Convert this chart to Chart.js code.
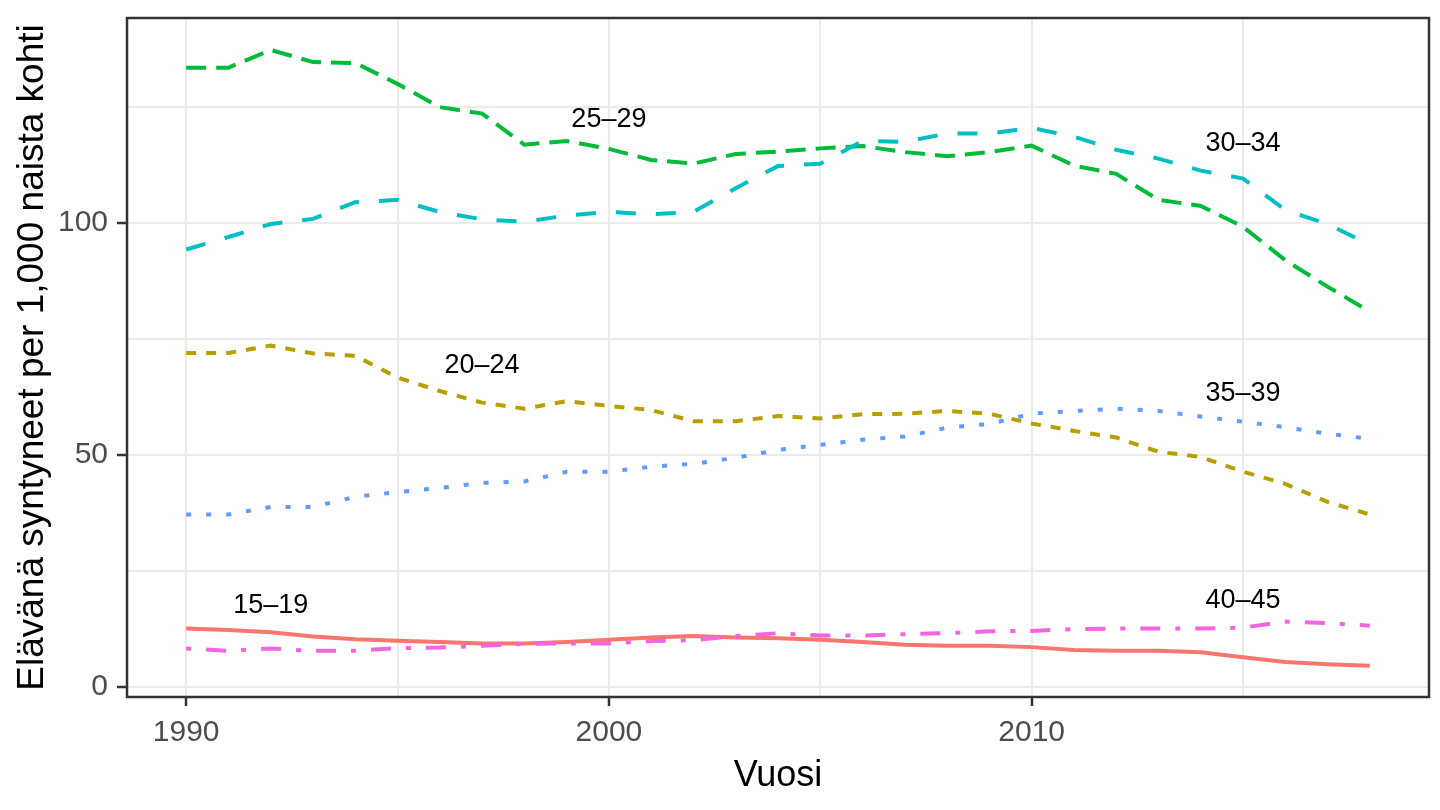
<!DOCTYPE html>
<html><head><meta charset="utf-8">
<script src="https://cdn.jsdelivr.net/npm/chart.js@4.4.1/dist/chart.umd.min.js"></script>
<style>html,body{margin:0;padding:0;background:#fff;} #wrap{width:1440px;height:810px;position:relative;}</style>
</head><body><div id="wrap"><canvas id="c"></canvas></div>
<script>
// ---- data ----
const years = [1990,1991,1992,1993,1994,1995,1996,1997,1998,1999,2000,2001,2002,2003,2004,2005,2006,2007,2008,2009,2010,2011,2012,2013,2014,2015,2016,2017,2018];
const ageGroups = ['15–19','20–24','25–29','30–34','35–39','40–45'];
const age1519 = [12.6,12.3,11.8,10.9,10.3,10.0,9.7,9.4,9.4,9.7,10.2,10.7,11.0,10.7,10.5,10.2,9.7,9.1,8.9,8.9,8.6,8.0,7.8,7.8,7.5,6.4,5.4,4.9,4.6];
const age2024 = [72.0,72.0,73.6,71.9,71.4,66.7,63.8,61.3,60.0,61.6,60.6,59.7,57.3,57.3,58.4,57.9,58.8,58.9,59.5,58.9,56.8,55.2,53.8,50.7,49.6,46.4,43.8,39.9,37.2];
const age2529 = [133.5,133.5,137.3,134.7,134.5,130.0,125.0,123.6,116.9,117.7,116.0,113.6,112.8,114.9,115.4,116.1,116.6,115.3,114.4,115.3,116.7,112.4,110.6,105.0,103.7,99.2,92.0,86.3,80.9];
const age3034 = [94.3,97.0,99.8,100.9,104.5,105.0,102.4,100.8,100.3,101.6,102.4,101.9,102.4,107.5,112.3,112.8,117.7,117.5,119.3,119.3,120.5,118.6,115.8,113.9,111.3,109.6,102.8,99.8,95.3];
const age3539 = [37.2,37.2,38.8,38.8,41.0,42.0,42.9,44.0,44.3,46.4,46.4,47.5,48.1,49.4,51.1,52.2,53.3,54.0,55.9,56.7,58.9,59.5,60.0,59.5,58.3,57.2,56.0,54.6,53.5];
const age4045 = [8.3,7.8,8.3,7.8,7.8,8.4,8.5,8.9,9.3,9.4,9.4,9.9,10.1,11.0,11.6,11.1,11.1,11.4,11.6,12.0,12.1,12.5,12.6,12.6,12.6,12.8,14.1,13.8,13.2];
const xTicks = [1990,1995,2000,2005,2010,2015];
const xTickLabels = ['1990','','2000','','2010',''];
const yTicks = [0,25,50,75,100,125];
const yTickLabels = ['0','','50','','100',''];
// direct labels: text, year, value
const labelText = ['15–19','20–24','25–29','30–34','35–39','40–45'];
const labelYear = [1992,1997,2000,2015,2015,2015];
const labelValue = [17.5,69.2,122.4,117.2,63.2,18.6];
const xTitle = 'Vuosi';
const yTitle = 'Elävänä syntyneet per 1,000 naista kohti';

// ---- styles ----
const FONT = '"Liberation Sans", Arial, Helvetica, sans-serif';
const seriesValues = [age1519, age2024, age2529, age3034, age3539, age4045];
const colors = ['#F8766D','#B79F00','#00BA38','#00BFC4','#619CFF','#F564E3'];
const dashes = [[], [10,10], [20,10], [20,20], [5,15], [5,15,20,15]];

const datasets = seriesValues.map((vals, i) => ({
  label: ageGroups[i],
  data: years.map((yr, j) => ({x: yr, y: vals[j]})),
  borderColor: colors[i],
  backgroundColor: colors[i],
  borderWidth: 4,
  borderDash: dashes[i],
  borderCapStyle: 'butt',
  pointRadius: 0,
  tension: 0,
  fill: false,
  order: 6 - i
}));

const panelPlugin = {
  id: 'panel',
  afterDatasetsDraw(chart) {
    const {ctx, chartArea: a, scales} = chart;
    ctx.save();
    ctx.fillStyle = '#000';
    ctx.font = '27px ' + FONT;
    ctx.textAlign = 'center';
    ctx.textBaseline = 'middle';
    labelText.forEach((t, i) => {
      ctx.fillText(t, scales.x.getPixelForValue(labelYear[i]), scales.y.getPixelForValue(labelValue[i]));
    });
    ctx.strokeStyle = '#333333';
    ctx.lineWidth = 2.5;
    ctx.strokeRect(a.left, a.top, a.right - a.left, a.bottom - a.top);
    ctx.restore();
  },
  afterDraw(chart) {
    const {ctx, chartArea: a} = chart;
    ctx.save();
    ctx.fillStyle = '#000';
    ctx.font = '36px ' + FONT;
    ctx.textAlign = 'center';
    ctx.textBaseline = 'alphabetic';
    ctx.fillText(xTitle, (a.left + a.right) / 2, 786);
    ctx.translate(43, (a.top + a.bottom) / 2);
    ctx.rotate(-Math.PI / 2);
    ctx.font = '37px ' + FONT;
    ctx.fillText(yTitle, 0, 0);
    ctx.restore();
  }
};

function gridCfg(majorList, tickLen) {
  return {
    color: '#EBEBEB',
    lineWidth: 2,
    drawTicks: true,
    tickLength: tickLen,
    tickWidth: 2.5,
    tickColor: (c) => (c.tick && majorList.includes(c.tick.value)) ? '#333333' : 'rgba(0,0,0,0)'
  };
}

new Chart(document.getElementById('c'), {
  type: 'line',
  data: {datasets},
  options: {
    responsive: true,
    maintainAspectRatio: false,
    animation: false,
    layout: {padding: {top: 18, right: 11, left: 0, bottom: 0}},
    plugins: {legend: {display: false}, tooltip: {enabled: false}, title: {display: false}},
    scales: {
      x: {
        type: 'linear', min: 1988.6, max: 2019.4,
        afterBuildTicks: s => { s.ticks = xTicks.map(v => ({value: v})); },
        afterFit: s => { s.height = 113; s.paddingLeft = 0; s.paddingRight = 0; },
        border: {display: false},
        grid: gridCfg([1990, 2000, 2010], 9),
        ticks: {
          autoSkip: false, maxRotation: 0, minRotation: 0, padding: 9,
          color: '#4D4D4D', font: {family: FONT, size: 30},
          callback: (v) => xTickLabels[xTicks.indexOf(v)] ?? ''
        }
      },
      y: {
        type: 'linear', min: -2.15, max: 144.2,
        afterBuildTicks: s => { s.ticks = yTicks.map(v => ({value: v})); },
        afterFit: s => { s.width = 127; s.paddingTop = 0; s.paddingBottom = 0; },
        border: {display: false},
        grid: gridCfg([0, 50, 100], 10),
        ticks: {
          autoSkip: false, padding: 9,
          color: '#4D4D4D', font: {family: FONT, size: 30},
          callback: (v) => yTickLabels[yTicks.indexOf(v)] ?? ''
        }
      }
    }
  },
  plugins: [panelPlugin]
});
</script>
</body></html>
